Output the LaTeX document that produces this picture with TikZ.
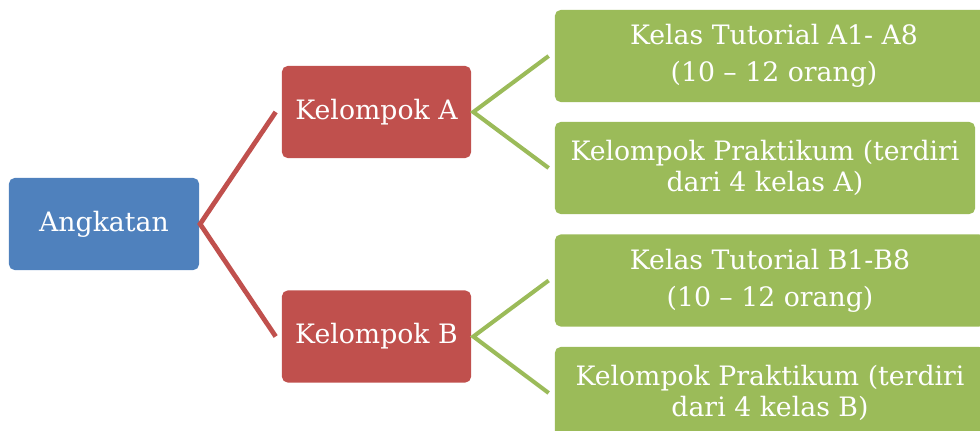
\documentclass[tikz,border=0pt]{standalone}
\usepackage{fontspec}
\setmainfont{DejaVu Serif}
\usepackage{tikz}
\usetikzlibrary{positioning}

\definecolor{biru}{HTML}{4F81BD}
\definecolor{merah}{HTML}{C0504D}
\definecolor{hijau}{HTML}{9BBB59}

\tikzset{
  kotak/.style={rounded corners=4pt, text=white, align=center, inner sep=0pt,
    minimum height=2.3cm, font=\fontsize{19}{21.5}\selectfont},
  garismerah/.style={draw=merah, line width=3.4pt, line join=miter},
  garishijau/.style={draw=hijau, line width=2.9pt, line join=miter}
}

\begin{document}
\begin{tikzpicture}[x=0.025cm, y=-0.025cm]
    \useasboundingbox (0,0) rectangle (980,430);
    \clip (0,0) rectangle (980,430);

    % Angkatan
    \node[kotak, fill=biru, minimum width=4.75cm] (angkatan) at (104,224) {Angkatan};

    % Kelompok A und B
    \node[kotak, fill=merah, minimum width=4.725cm] (kelA) at (376.5,112) {Kelompok A};
    \node[kotak, fill=merah, minimum width=4.725cm] (kelB) at (376.5,336.5) {Kelompok B};

    % Kelas Tutorial und Praktikum
    \node[kotak, fill=hijau, minimum width=10.95cm] (tutA) at (774,56)
        {Kelas Tutorial A1- A8\\[4.8pt](10 -- 12 orang)};
    \node[kotak, fill=hijau, minimum width=10.5cm] (praA) at (765,168)
        {Kelompok Praktikum (terdiri\\dari 4 kelas A)};
    \node[kotak, fill=hijau, minimum width=10.75cm] (tutB) at (770,280.5)
        {Kelas Tutorial B1-B8\\[4.8pt](10 -- 12 orang)};
    \node[kotak, fill=hijau, minimum width=10.75cm] (praB) at (770,393)
        {Kelompok Praktikum (terdiri\\dari 4 kelas B)};

    % Verbindungen
    \draw[garismerah] ([xshift=-0.15cm]kelA.west) -- ([xshift=0.02cm]angkatan.east)
        -- ([xshift=-0.15cm]kelB.west);
    \draw[garishijau] ([xshift=-0.15cm]tutA.west) -- ([xshift=0.05cm]kelA.east)
        -- ([xshift=-0.15cm]praA.west);
    \draw[garishijau] ([xshift=-0.15cm]tutB.west) -- ([xshift=0.05cm]kelB.east)
        -- ([xshift=-0.15cm]praB.west);
\end{tikzpicture}
\end{document}
